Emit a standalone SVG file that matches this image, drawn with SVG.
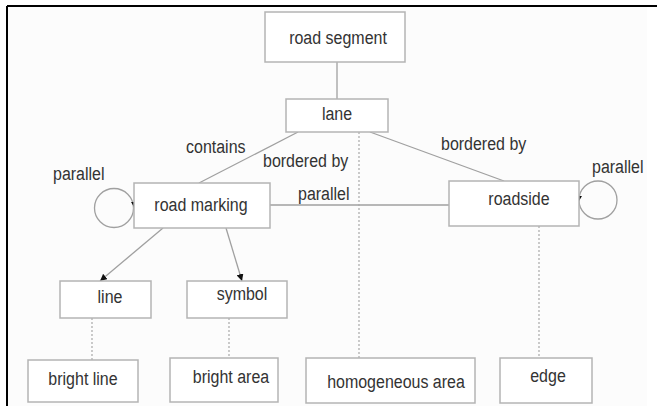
<svg xmlns="http://www.w3.org/2000/svg" width="657" height="406" viewBox="0 0 657 406">
<defs>
<style>
.box{fill:#ffffff;stroke:#b4b4b4;stroke-width:1.5}
.t{font-family:"Liberation Sans",Arial,sans-serif;font-size:16px;fill:#333333;text-anchor:middle}
.lbl{font-family:"Liberation Sans",Arial,sans-serif;font-size:16px;fill:#333333}
.c{stroke:#a0a0a0;stroke-width:1.3;fill:none}
.d{stroke:#a8a8a8;stroke-width:1.2;fill:none;stroke-dasharray:2 2}
.ah{fill:#111111}
</style>
<marker id="arr" viewBox="0 0 10 10" refX="10" refY="5" markerWidth="7" markerHeight="7" markerUnits="userSpaceOnUse" orient="auto">
<path d="M0,0 L10,5 L0,10 z" class="ah"/>
</marker>
</defs>
<rect x="7" y="6" width="640" height="400" fill="#fcfcfc"/>
<path d="M7,6 H657 M7,6 V406" stroke="#000" stroke-width="2" fill="none"/>

<g id="connectors">
<line class="c" x1="337" y1="62" x2="337" y2="99"/>
<line class="c" x1="298" y1="132" x2="199" y2="183"/>
<line class="c" x1="370" y1="132" x2="504" y2="181"/>
<line class="c" x1="270" y1="205" x2="449" y2="205"/>
<line class="c" x1="163" y1="228" x2="100" y2="281" marker-end="url(#arr)"/>
<line class="c" x1="226" y1="228" x2="242" y2="281" marker-end="url(#arr)"/>
<circle class="c" cx="114" cy="208" r="19.5"/>
<path class="ah" d="M131,202 L137,202 L134,207 z"/>
<circle class="c" cx="598" cy="200" r="19"/>
<path class="ah" d="M576,196 L582,196 L579,201 z"/>
<line class="d" x1="92" y1="318" x2="92" y2="360"/>
<line class="d" x1="229" y1="318" x2="229" y2="358"/>
<line class="d" x1="359" y1="132" x2="359" y2="358"/>
<line class="d" x1="539" y1="226" x2="539" y2="358"/>
<text class="lbl" transform="matrix(1,0,0,1.1,186,153)">contains</text>
<text class="lbl" transform="matrix(1,0,0,1.1,263,167)">bordered by</text>
<text class="lbl" transform="matrix(1,0,0,1.1,441,150)">bordered by</text>
<text class="lbl" transform="matrix(1,0,0,1.1,298,200)">parallel</text>
<text class="lbl" transform="matrix(1,0,0,1.1,53,180)">parallel</text>
<text class="lbl" transform="matrix(1,0,0,1.1,592,173)">parallel</text>
</g>

<g id="road-segment"><rect class="box" x="265" y="12" width="140" height="50"/><text class="t" transform="matrix(1,0,0,1.1,338,44)">road segment</text></g>
<g id="lane"><rect class="box" x="286" y="99" width="102" height="33"/><text class="t" transform="matrix(1,0,0,1.1,337,120)">lane</text></g>
<g id="road-marking"><rect class="box" x="134" y="183" width="136" height="45"/><text class="t" transform="matrix(1,0,0,1.1,201,211)">road marking</text></g>
<g id="roadside"><rect class="box" x="449" y="181" width="130" height="45"/><text class="t" transform="matrix(1,0,0,1.1,519,205)">roadside</text></g>
<g id="line"><rect class="box" x="60" y="281" width="91" height="37"/><text class="t" transform="matrix(1,0,0,1.1,110,303)">line</text></g>
<g id="symbol"><rect class="box" x="187" y="281" width="100" height="37"/><text class="t" transform="matrix(1,0,0,1.1,242,300)">symbol</text></g>
<g id="bright-line"><rect class="box" x="28" y="360" width="110" height="42"/><text class="t" transform="matrix(1,0,0,1.1,83,385)">bright line</text></g>
<g id="bright-area"><rect class="box" x="170" y="358" width="108" height="44"/><text class="t" transform="matrix(1,0,0,1.1,231,383)">bright area</text></g>
<g id="homogeneous-area"><rect class="box" x="306" y="358" width="169" height="45"/><text class="t" transform="matrix(1,0,0,1.1,396,388)">homogeneous area</text></g>
<g id="edge"><rect class="box" x="500" y="358" width="92" height="45"/><text class="t" transform="matrix(1,0,0,1.1,548,382)">edge</text></g>
</svg>
